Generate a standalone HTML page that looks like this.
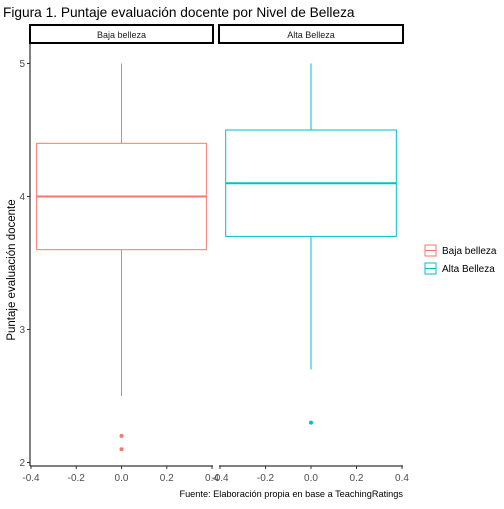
<!DOCTYPE html>
<html><head><meta charset="utf-8"><style>
body{margin:0;background:#fff;font-family:"Liberation Sans",sans-serif}
</style></head><body>
<svg id="c" width="504" height="504" xmlns="http://www.w3.org/2000/svg" font-family="Liberation Sans, sans-serif">
<text x="3" y="17" font-size="13.7" fill="#000">Figura 1. Puntaje evaluación docente por Nivel de Belleza</text>
<text transform="translate(15,270) rotate(-90)" text-anchor="middle" font-size="11.5">Puntaje evaluación docente</text>
<text x="403" y="497" text-anchor="end" font-size="9.2">Fuente: Elaboración propia en base a TeachingRatings</text>
<g id="plot"></g>
</svg>
<script>
const groups=["Baja belleza","Alta Belleza"];
const colors=["#F8766D","#00BFC4"];
const lowW=[2.5,2.7];
const q1=[3.6,3.7];
const med=[4.0,4.1];
const q3=[4.4,4.5];
const highW=[5.0,5.0];
const outliers=[[2.2,2.1],[2.3]];
const yTicks=[2,3,4,5];
const xTicks=[-0.4,-0.2,0,0.2,0.4];
const xTickLabels=["-0.4","-0.2","0.0","0.2","0.4"];
const NS="http://www.w3.org/2000/svg";
const g=document.getElementById('plot');
function mk(t,a,p){const e=document.createElementNS(NS,t);for(const k in a)e.setAttribute(k,a[k]);(p||g).appendChild(e);return e;}
const y=v=>462.5-(v-2)*133;
const panels=[{x0:30,x1:213},{x0:219,x1:403}];
function xs(p,v){const P=panels[p];return P.x0+1+(v+0.4)/0.8*(P.x1-P.x0-2);}
let ax=mk('line',{x1:30,y1:43,x2:30,y2:466,stroke:'#000','stroke-width':1});

yTicks.forEach(t=>{
 let l=mk('line',{x1:27,x2:30,y1:y(t),y2:y(t),stroke:'#333'});
 
 let tx=mk('text',{x:25,y:y(t)+3.5,'text-anchor':'end','font-size':10,fill:'#4d4d4d'});tx.textContent=t;
 
});
groups.forEach((gr,i)=>{
 const P=panels[i];
 let s=mk('rect',{x:P.x0,y:25,width:P.x1-P.x0,height:18,fill:'#fff',stroke:'#000','stroke-width':2});
 
 let st=mk('text',{x:(P.x0+P.x1)/2,y:38,'text-anchor':'middle','font-size':9,fill:'#1a1a1a'});st.textContent=gr;
 
 let xa=mk('line',{x1:P.x0,x2:P.x1,y1:466,y2:466,stroke:'#000'});
 
 xTicks.forEach((t,k)=>{
  let l=mk('line',{x1:xs(i,t),x2:xs(i,t),y1:466,y2:469,stroke:'#333'});
  
  let tx=mk('text',{x:xs(i,t),y:481,'text-anchor':'middle','font-size':10,fill:'#4d4d4d'});tx.textContent=xTickLabels[k];
  
 });
 const c=colors[i],cx=xs(i,0),xl=xs(i,-0.375),xr=xs(i,0.375);
 let w1=mk('line',{x1:cx,x2:cx,y1:y(highW[i]),y2:y(q3[i]),stroke:c});
 
 let w2=mk('line',{x1:cx,x2:cx,y1:y(q1[i]),y2:y(lowW[i]),stroke:c});
 
 let b=mk('rect',{x:xl,y:y(q3[i]),width:xr-xl,height:y(q1[i])-y(q3[i]),fill:'#fff',stroke:c});
 
 let m=mk('line',{x1:xl,x2:xr,y1:y(med[i]),y2:y(med[i]),stroke:c,'stroke-width':2});
 
 outliers[i].forEach(o=>{
  let d=mk('circle',{cx:cx,cy:y(o),r:2,fill:c});
  
 });
 const ly=250+i*18;
 let lk=mk('rect',{x:425,y:ly-5,width:11,height:11,fill:'#fff',stroke:c});
 
 let lm=mk('line',{x1:425,x2:436,y1:ly+0.5,y2:ly+0.5,stroke:c});
 
 let lt=mk('text',{x:442,y:ly+4,'font-size':10});lt.textContent=gr;
 
});
</script>
</body></html>
